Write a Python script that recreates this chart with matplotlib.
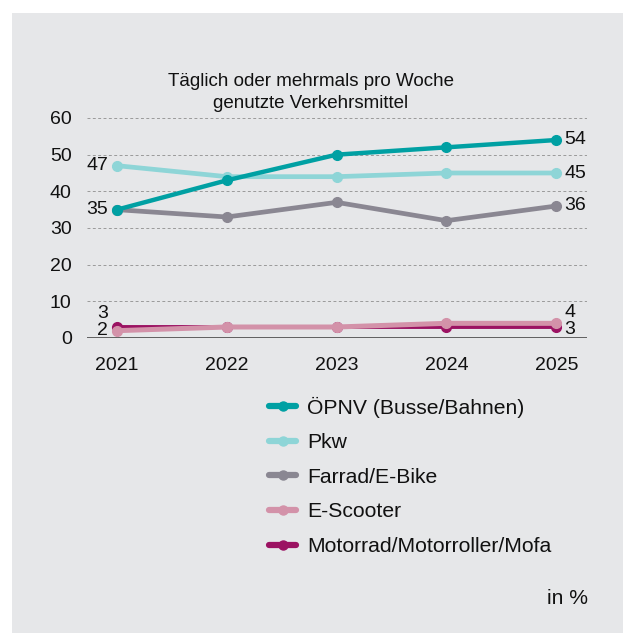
import matplotlib.pyplot as plt
from matplotlib.patches import Rectangle

years = [2021, 2022, 2023, 2024, 2025]
oepnv = [35, 43, 50, 52, 54]
pkw = [47, 44, 44, 45, 45]
fahrrad = [35, 33, 37, 32, 36]
escooter = [2, 3, 3, 4, 4]
motorrad = [3, 3, 3, 3, 3]

labels = [
    "ÖPNV (Busse/Bahnen)",
    "Pkw",
    "Farrad/E-Bike",
    "E-Scooter",
    "Motorrad/Motorroller/Mofa",
]
colors = ["#00a0a3", "#8ed5d7", "#8a8792", "#d392a9", "#9b1262"]

plt.rcParams["font.family"] = ["Liberation Sans", "DejaVu Sans"]

W, H = 623, 633
fig = plt.figure(figsize=(W / 100, H / 100), dpi=100)
fig.patch.set_facecolor("white")
bg = Rectangle((12 / W, 0), 1 - 12 / W, 1 - 13 / H, transform=fig.transFigure,
               facecolor="#e6e7e9", edgecolor="none", zorder=-10)
fig.add_artist(bg)

ax = fig.add_axes([87 / W, 1 - 338 / H, 500 / W, 220 / H])
ax.set_facecolor("none")

series = [oepnv, pkw, fahrrad, escooter, motorrad]
z_order = [6, 5, 4, 3, 2]
widths = [3.2, 3.4, 3.4, 3.6, 2.8]
for vals, col, lab, z, lw in zip(series, colors, labels, z_order, widths):
    ax.plot(years, vals, color=col, lw=lw, marker="o", ms=7, label=lab,
            zorder=z, clip_on=False, solid_capstyle="round")

ax.set_xlim(2020.727, 2025.28)
ax.set_ylim(0, 60)
ax.set_yticks([0, 10, 20, 30, 40, 50, 60])
ax.set_xticks(years)
ax.tick_params(length=0, labelsize=14, colors="#111111")
ax.tick_params(axis="x", pad=13.5)
ax.tick_params(axis="y", pad=11)
for y in [10, 20, 30, 40, 50, 60]:
    ax.axhline(y, color="#9a9a9a", lw=0.7, ls=(0, (3, 2.5)), zorder=1)
ax.axhline(0, color="#555555", lw=1.3, zorder=1)
for sp in ax.spines.values():
    sp.set_visible(False)

lab_kw = dict(fontsize=14, color="#111111", va="center",
              textcoords="offset points")
# left-hand value labels
ax.annotate(str(pkw[0]), (years[0], pkw[0]), xytext=(-6.5, 0), ha="right", **lab_kw)
ax.annotate(str(oepnv[0]), (years[0], oepnv[0]), xytext=(-6.5, 0), ha="right", **lab_kw)
ax.annotate(str(motorrad[0]), (years[0], motorrad[0]), xytext=(-6.5, 9.5), ha="right", **lab_kw)
ax.annotate(str(escooter[0]), (years[0], escooter[0]), xytext=(-6.5, 0), ha="right", **lab_kw)
# right-hand value labels
ax.annotate(str(oepnv[-1]), (years[-1], oepnv[-1]), xytext=(6, 0), ha="left", **lab_kw)
ax.annotate(str(pkw[-1]), (years[-1], pkw[-1]), xytext=(6, 0), ha="left", **lab_kw)
ax.annotate(str(fahrrad[-1]), (years[-1], fahrrad[-1]), xytext=(6, 0), ha="left", **lab_kw)
ax.annotate(str(escooter[-1]), (years[-1], escooter[-1]), xytext=(6, 7.5), ha="left", **lab_kw)
ax.annotate(str(motorrad[-1]), (years[-1], motorrad[-1]), xytext=(6, -1.5), ha="left", **lab_kw)

fig.text(311 / W, 1 - 81 / H, "Täglich oder mehrmals pro Woche",
         ha="center", va="center", fontsize=13.5, color="#111111")
fig.text(311 / W, 1 - 104 / H, "genutzte Verkehrsmittel",
         ha="center", va="center", fontsize=13.5, color="#111111")

leg = fig.legend(loc="upper left", bbox_to_anchor=(260.5 / W, 1 - 388 / H),
                 frameon=False, fontsize=15.2, handlelength=1.3,
                 handletextpad=0.52, labelspacing=0.74, borderaxespad=0)
for h in leg.legend_handles:
    h.set_markersize(6.5)
    h.set_linewidth(4.5)
for t in leg.get_texts():
    t.set_color("#111111")

fig.text(588 / W, 1 - 598 / H, "in %", ha="right", va="center",
         fontsize=15.2, color="#111111")

fig.savefig("out.png", dpi=100)
